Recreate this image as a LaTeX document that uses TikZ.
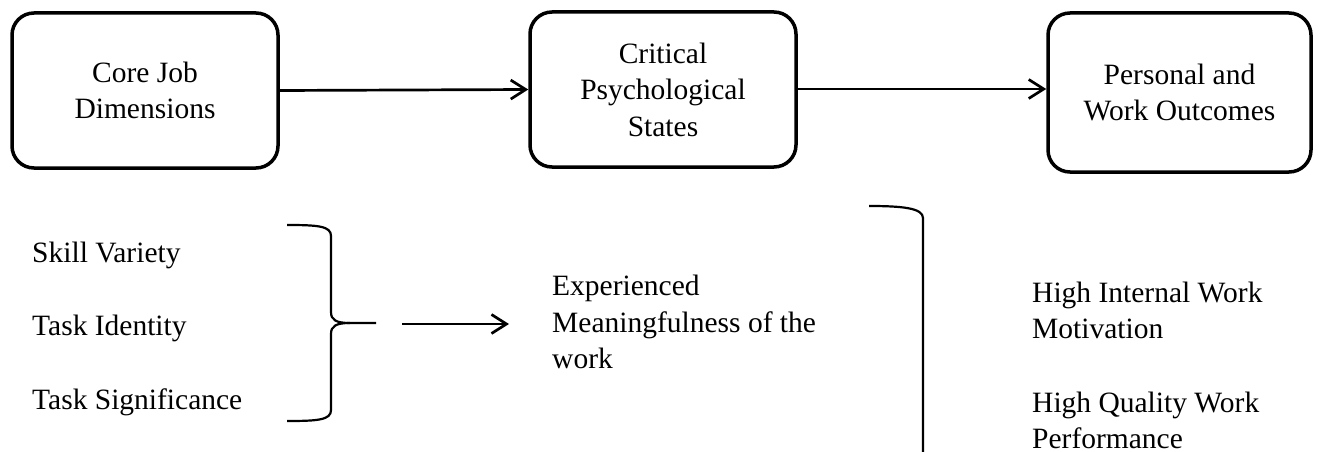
\documentclass[tikz,border=0pt]{standalone}
\usepackage{fontspec}
\setmainfont{Liberation Serif}
\usetikzlibrary{arrows.meta}
\tikzset{
  txt/.style={font=\fontsize{29.5}{36.5}\selectfont, inner sep=0pt},
  mainbox/.style={txt, draw, line width=3.5pt, rounded corners=22pt, align=center, minimum height=155pt},
  flow/.style={line width=2.7pt, -{Straight Barb[length=15pt,width=19pt,line width=2.7pt]}},
  bracket/.style={line width=2.2pt},
}
\begin{document}
\begin{tikzpicture}[x=1pt,y=-1pt]
\useasboundingbox (0,0) rectangle (1323,452);
% top boxes
\node[mainbox, minimum width=266pt] (core) at (145,90.5) {Core Job\\Dimensions};
\node[mainbox, minimum width=266pt] (crit) at (663,89.5) {Critical\\Psychological\\States};
\node[mainbox, minimum width=263pt, minimum height=159pt] (out) at (1179.5,92.5) {Personal and\\Work Outcomes};
\draw[flow] (core.east) -- (crit.west);
\draw[flow] (crit.east |- 0,89) -- (out.west |- 0,89);
% left list
\node[txt, anchor=base west] (sv) at (32,262) {Skill Variety};
\node[txt, anchor=base west] (ti) at (32,335) {Task Identity};
\node[txt, anchor=base west] (ts) at (32,409) {Task Significance};
% brace
\coordinate (btip) at (376,323);
\draw[bracket] (287,225) .. controls (318,225) and (331,226) .. (331,236) -- (331,312)
  .. controls (331,320) and (336,323) .. (350,323) -- (btip);
\draw[bracket] (350,323) .. controls (336,323) and (331,326) .. (331,334) -- (331,410)
  .. controls (331,420) and (318,421) .. (287,421);
% arrow to meaningfulness
\coordinate (a1) at (402,324);
\coordinate (a2) at (509,324);
\draw[flow] (a1) -- (a2);
\node[txt, anchor=base west] (em1) at (552,295) {Experienced};
\node[txt, anchor=base west] (em2) at (552,332) {Meaningfulness of the};
\node[txt, anchor=base west] (em3) at (552,368) {work};
% right bracket
\draw[bracket] (869,206) .. controls (902,206) and (923,208) .. (923,218) -- (923,452);
% outcomes
\node[txt, anchor=base west] (hi1) at (1032,302) {High Internal Work};
\node[txt, anchor=base west] (hi2) at (1032,338) {Motivation};
\node[txt, anchor=base west] (hq1) at (1032,412) {High Quality Work};
\node[txt, anchor=base west] (hq2) at (1032,448) {Performance};
\end{tikzpicture}
\end{document}
